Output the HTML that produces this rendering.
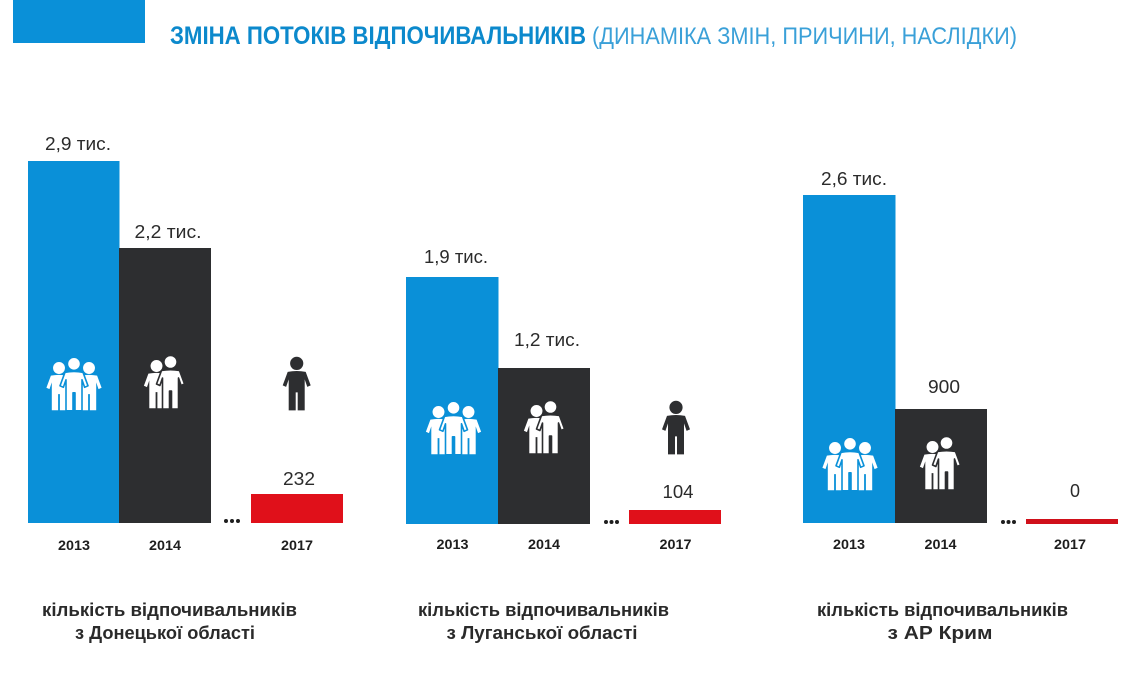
<!DOCTYPE html>
<html>
<head>
<meta charset="utf-8">
<style>
  html,body{margin:0;padding:0;background:#fff;}
  body{width:1139px;height:683px;overflow:hidden;}
  svg{display:block;}
  .val{font-family:"Liberation Sans",sans-serif;font-size:18px;fill:#2b2b2b;}
  .yr{font-family:"Liberation Sans",sans-serif;font-size:14px;font-weight:bold;fill:#1e1e1e;}
  .ft{font-family:"Liberation Sans",sans-serif;font-size:18px;font-weight:bold;fill:#2a2a2a;}
</style>
</head>
<body>
<svg width="1139" height="683" viewBox="0 0 1139 683" xmlns="http://www.w3.org/2000/svg">
  <defs>
    <g id="person">
      <circle cx="0" cy="0" r="6.6"/>
      <path d="M -9,8.5 Q 0,6.8 9,8.5 L 14,22 L 10.6,23.5 L 8,16 L 8,47 L 1,47 L 1,29 L -1,29 L -1,47 L -8,47 L -8,16 L -10.6,23.5 L -14,22 Z" stroke-linejoin="round"/>
    </g>
  </defs>

  <!-- header -->
  <rect x="13" y="0" width="132" height="43" fill="#0a90d8"/>
  <text x="170" y="44" font-family="Liberation Sans, sans-serif" font-size="25" font-weight="bold" fill="#0c89cc" textLength="416" lengthAdjust="spacingAndGlyphs">ЗМІНА ПОТОКІВ ВІДПОЧИВАЛЬНИКІВ</text>
  <text x="592" y="44" font-family="Liberation Sans, sans-serif" font-size="24" fill="#3aa0d8" textLength="425" lengthAdjust="spacingAndGlyphs">(ДИНАМІКА ЗМІН, ПРИЧИНИ, НАСЛІДКИ)</text>

  <!-- ===== Group 1: Donetsk ===== -->
  <rect x="28" y="161" width="91.5" height="362" fill="#0a90d8"/>
  <rect x="119" y="248" width="92" height="275" fill="#2d2e30"/>
  <rect x="251" y="494" width="92" height="29" fill="#e0101a"/>
  <g fill="#1e1e1e"><circle cx="226" cy="521" r="2"/><circle cx="232" cy="521" r="2"/><circle cx="238" cy="521" r="2"/></g>
  <text class="val" x="78" y="150" text-anchor="middle" textLength="66" lengthAdjust="spacingAndGlyphs">2,9 тис.</text>
  <text class="val" x="168" y="238" text-anchor="middle" textLength="67" lengthAdjust="spacingAndGlyphs">2,2 тис.</text>
  <text class="val" x="299" y="485" text-anchor="middle" textLength="32" lengthAdjust="spacingAndGlyphs">232</text>
  <text class="yr" x="74" y="550" text-anchor="middle" textLength="32" lengthAdjust="spacingAndGlyphs">2013</text>
  <text class="yr" x="165" y="550" text-anchor="middle" textLength="32" lengthAdjust="spacingAndGlyphs">2014</text>
  <text class="yr" x="297" y="550" text-anchor="middle" textLength="32" lengthAdjust="spacingAndGlyphs">2017</text>
  <!-- icons g1 -->
  <g transform="translate(74,357)" fill="#fff">
    <g transform="translate(-15,11) scale(0.9)"><use href="#person"/></g>
    <g transform="translate(15,11) scale(0.9)"><use href="#person"/></g>
    <g transform="translate(0,6.8)" stroke="#0a90d8" stroke-width="1.6"><use href="#person"/></g>
  </g>
  <g transform="translate(165,356)" fill="#fff">
    <g transform="translate(-8.5,10) scale(0.9)"><use href="#person"/></g>
    <g transform="translate(5.5,6)" stroke="#2d2e30" stroke-width="1.6"><use href="#person"/></g>
  </g>
  <g transform="translate(296.7,357)" fill="#2d2e30">
    <g transform="translate(0,6.4)"><use href="#person"/></g>
  </g>
  <text class="ft" x="169.5" y="616" text-anchor="middle" textLength="255" lengthAdjust="spacingAndGlyphs">кількість відпочивальників</text>
  <text class="ft" x="165" y="639" text-anchor="middle" textLength="180" lengthAdjust="spacingAndGlyphs">з Донецької області</text>

  <!-- ===== Group 2: Luhansk ===== -->
  <rect x="406" y="277" width="92.5" height="247" fill="#0a90d8"/>
  <rect x="498" y="368" width="92" height="156" fill="#2d2e30"/>
  <rect x="629" y="510" width="92" height="14" fill="#e0101a"/>
  <g fill="#1e1e1e"><circle cx="606" cy="522" r="2"/><circle cx="611.5" cy="522" r="2"/><circle cx="617" cy="522" r="2"/></g>
  <text class="val" x="456" y="263" text-anchor="middle" textLength="64" lengthAdjust="spacingAndGlyphs">1,9 тис.</text>
  <text class="val" x="547" y="346" text-anchor="middle" textLength="66" lengthAdjust="spacingAndGlyphs">1,2 тис.</text>
  <text class="val" x="678" y="498" text-anchor="middle" textLength="31" lengthAdjust="spacingAndGlyphs">104</text>
  <text class="yr" x="452.5" y="549" text-anchor="middle" textLength="32" lengthAdjust="spacingAndGlyphs">2013</text>
  <text class="yr" x="544" y="549" text-anchor="middle" textLength="32" lengthAdjust="spacingAndGlyphs">2014</text>
  <text class="yr" x="675.5" y="549" text-anchor="middle" textLength="32" lengthAdjust="spacingAndGlyphs">2017</text>
  <g transform="translate(453.5,401)" fill="#fff">
    <g transform="translate(-15,11) scale(0.9)"><use href="#person"/></g>
    <g transform="translate(15,11) scale(0.9)"><use href="#person"/></g>
    <g transform="translate(0,6.8)" stroke="#0a90d8" stroke-width="1.6"><use href="#person"/></g>
  </g>
  <g transform="translate(545,401)" fill="#fff">
    <g transform="translate(-8.5,10) scale(0.9)"><use href="#person"/></g>
    <g transform="translate(5.5,6)" stroke="#2d2e30" stroke-width="1.6"><use href="#person"/></g>
  </g>
  <g transform="translate(676,401)" fill="#2d2e30">
    <g transform="translate(0,6.4)"><use href="#person"/></g>
  </g>
  <text class="ft" x="543.5" y="616" text-anchor="middle" textLength="251" lengthAdjust="spacingAndGlyphs">кількість відпочивальників</text>
  <text class="ft" x="542" y="639" text-anchor="middle" textLength="191" lengthAdjust="spacingAndGlyphs">з Луганської області</text>

  <!-- ===== Group 3: Crimea ===== -->
  <rect x="803" y="195" width="92.5" height="328" fill="#0a90d8"/>
  <rect x="895" y="409" width="92" height="114" fill="#2d2e30"/>
  <rect x="1026" y="519" width="92" height="5" fill="#d0101a"/>
  <g fill="#1e1e1e"><circle cx="1003" cy="522" r="2"/><circle cx="1008.5" cy="522" r="2"/><circle cx="1014" cy="522" r="2"/></g>
  <text class="val" x="854" y="185" text-anchor="middle" textLength="66" lengthAdjust="spacingAndGlyphs">2,6 тис.</text>
  <text class="val" x="944" y="393" text-anchor="middle" textLength="32" lengthAdjust="spacingAndGlyphs">900</text>
  <text class="val" x="1075" y="497" text-anchor="middle">0</text>
  <text class="yr" x="849" y="549" text-anchor="middle" textLength="32" lengthAdjust="spacingAndGlyphs">2013</text>
  <text class="yr" x="940.5" y="549" text-anchor="middle" textLength="32" lengthAdjust="spacingAndGlyphs">2014</text>
  <text class="yr" x="1070" y="549" text-anchor="middle" textLength="32" lengthAdjust="spacingAndGlyphs">2017</text>
  <g transform="translate(850,437)" fill="#fff">
    <g transform="translate(-15,11) scale(0.9)"><use href="#person"/></g>
    <g transform="translate(15,11) scale(0.9)"><use href="#person"/></g>
    <g transform="translate(0,6.8)" stroke="#0a90d8" stroke-width="1.6"><use href="#person"/></g>
  </g>
  <g transform="translate(941,437)" fill="#fff">
    <g transform="translate(-8.5,10) scale(0.9)"><use href="#person"/></g>
    <g transform="translate(5.5,6)" stroke="#2d2e30" stroke-width="1.6"><use href="#person"/></g>
  </g>
  <text class="ft" x="942.5" y="616" text-anchor="middle" textLength="251" lengthAdjust="spacingAndGlyphs">кількість відпочивальників</text>
  <text class="ft" x="940" y="639" text-anchor="middle" textLength="105" lengthAdjust="spacingAndGlyphs">з АР Крим</text>
</svg>
</body>
</html>
